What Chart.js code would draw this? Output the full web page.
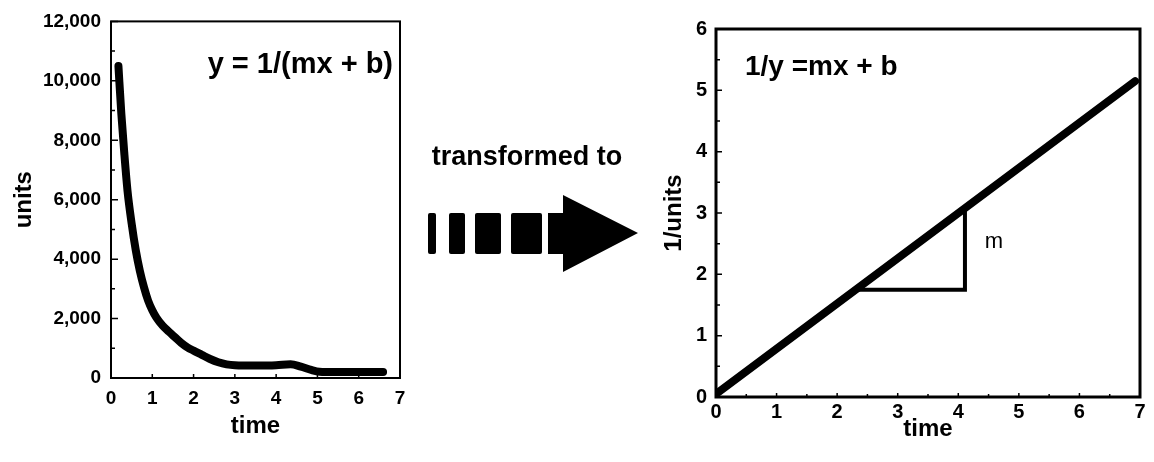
<!DOCTYPE html>
<html>
<head>
<meta charset="utf-8">
<script src="https://cdn.jsdelivr.net/npm/chart.js@4.4.1/dist/chart.umd.min.js"></script>
<style>
  html, body { margin: 0; padding: 0; background: #fff; }
  #page { position: relative; width: 1154px; height: 462px; overflow: hidden; background: #fff; }
  #decay { position: absolute; left: 0; top: 0; }
  #linear { position: absolute; left: 640px; top: 0; }
  #arrow { position: absolute; left: 0; top: 0; pointer-events: none; }
</style>
</head>
<body>
<div id="page">
  <canvas id="decay" width="420" height="462"></canvas>
  <canvas id="linear" width="514" height="462"></canvas>
  <svg id="arrow" width="1154" height="462" xmlns="http://www.w3.org/2000/svg">
    <text x="527" y="165" text-anchor="middle" font-family="Liberation Sans, Arial, sans-serif" font-weight="bold" font-size="27" fill="#000">transformed to</text>
    <rect x="428" y="213" width="8" height="41" rx="2" fill="#000"/>
    <rect x="449" y="213" width="16" height="41" rx="2" fill="#000"/>
    <rect x="475" y="213" width="26" height="41" rx="2" fill="#000"/>
    <rect x="511" y="213" width="31" height="41" rx="2" fill="#000"/>
    <polygon points="548,213 563,213 563,195 638,233 563,272 563,254 548,254" fill="#000"/>
  </svg>
</div>
<script>
// Decay curve: units over time
const decayTime  = [0.18, 0.25, 0.32, 0.40, 0.50, 0.60, 0.70, 0.80, 0.90, 1.00, 1.10, 1.25, 1.40, 1.55, 1.70, 1.85, 2.00, 2.20, 2.40, 2.60, 2.80, 3.00, 3.50, 4.00, 4.35, 4.60, 4.85, 5.05, 5.40, 6.59];
const decayUnits = [10500, 8900, 7600, 6300, 5200, 4300, 3600, 3050, 2600, 2280, 2030, 1760, 1560, 1370, 1180, 1030, 920, 780, 640, 530, 460, 430, 420, 430, 460, 380, 270, 210, 200, 200];

// Reciprocal plot: 1/units over time
const lineTime = [0, 6.92];
const lineInv  = [0.05, 5.15];

// Slope triangle under the straight line
const slopeTime = [2.33, 4.11, 4.11];
const slopeInv  = [1.75, 1.75, 3.08];

// Axis tick values
const decayXTicks  = [0, 1, 2, 3, 4, 5, 6, 7];
const decayYTicks  = [0, 2000, 4000, 6000, 8000, 10000, 12000];
const linearXTicks = [0, 1, 2, 3, 4, 5, 6, 7];
const linearYTicks = [0, 1, 2, 3, 4, 5, 6];

const FONT = '"Liberation Sans", Arial, Helvetica, sans-serif';

const toPoints = (xs, ys) => xs.map((x, i) => ({ x, y: ys[i] }));
const fixedTicks = arr => scale => { scale.ticks = arr.map(v => ({ value: v })); };

// Draws the closed plot frame, inward tick marks and text notes
const framePlugin = {
  id: 'frame',
  afterDatasetsDraw(chart, args, opts) {
    const { ctx, chartArea: a, scales } = chart;
    ctx.save();
    ctx.strokeStyle = '#000';
    ctx.lineWidth = opts.frameWidth;
    ctx.strokeRect(a.left, a.top, a.right - a.left, a.bottom - a.top);

    ctx.lineWidth = 1.5;
    ctx.beginPath();
    for (const t of opts.yMarks) {
      const py = scales.y.getPixelForValue(t.v);
      ctx.moveTo(a.left, py);
      ctx.lineTo(a.left + t.len, py);
    }
    for (const t of opts.xMarks) {
      const px = scales.x.getPixelForValue(t.v);
      ctx.moveTo(px, a.bottom);
      ctx.lineTo(px, a.bottom - t.len);
    }
    ctx.stroke();

    ctx.fillStyle = '#000';
    ctx.textBaseline = 'alphabetic';
    for (const n of opts.notes) {
      ctx.font = n.font;
      ctx.textAlign = n.align;
      let px, py;
      if (n.data) {
        px = scales.x.getPixelForValue(n.x);
        py = scales.y.getPixelForValue(n.y);
      } else {
        px = n.fromRight ? a.right - n.dx : a.left + n.dx;
        py = a.top + n.dy;
      }
      ctx.fillText(n.text, px, py);
    }
    ctx.restore();
  }
};

const marks = (from, to, step, len) => {
  const out = [];
  for (let v = from; v <= to + 1e-9; v += step) out.push({ v, len });
  return out;
};

function axisBase(size, pad) {
  return {
    type: 'linear',
    grid: { display: false, drawTicks: false },
    border: { display: false },
    ticks: { color: '#000', font: { family: FONT, size: size, weight: 'bold' }, padding: pad }
  };
}

// Left chart
const decayX = Object.assign(axisBase(19, 9), {
  min: 0, max: 7,
  afterBuildTicks: fixedTicks(decayXTicks),
  afterFit: s => { s.height = 84; },
  title: { display: true, text: 'time', color: '#000', font: { family: FONT, size: 24, weight: 'bold' }, padding: { top: 0, bottom: 21 } }
});
const decayY = Object.assign(axisBase(19, 10), {
  min: 0, max: 12000,
  afterBuildTicks: fixedTicks(decayYTicks),
  afterFit: s => { s.width = 111; },
  title: { display: true, text: 'units', color: '#000', font: { family: FONT, size: 24, weight: 'bold' }, padding: { top: 10, bottom: 0 } }
});
decayY.ticks.callback = v => Number(v).toLocaleString('en-US');

new Chart(document.getElementById('decay'), {
  type: 'line',
  data: {
    datasets: [{
      data: toPoints(decayTime, decayUnits),
      borderColor: '#000',
      borderWidth: 8,
      borderCapStyle: 'round',
      borderJoinStyle: 'round',
      cubicInterpolationMode: 'monotone',
      pointRadius: 0,
      fill: false
    }]
  },
  options: {
    responsive: false,
    animation: false,
    devicePixelRatio: 1,
    layout: { padding: { left: 0, right: 20, top: 20, bottom: 0 } },
    plugins: {
      legend: { display: false },
      tooltip: { enabled: false },
      frame: {
        frameWidth: 2,
        yMarks: marks(0, 12000, 2000, 7).concat(marks(1000, 11000, 2000, 4)),
        xMarks: marks(0, 7, 1, 4),
        notes: [
          { text: 'y = 1/(mx + b)', font: 'bold 29px ' + FONT, align: 'right', fromRight: true, dx: 7, dy: 52 }
        ]
      }
    },
    scales: { x: decayX, y: decayY }
  },
  plugins: [framePlugin]
});

// Right chart
const linearX = Object.assign(axisBase(20, 3), {
  min: 0, max: 7,
  afterBuildTicks: fixedTicks(linearXTicks),
  afterFit: s => { s.height = 65; },
  title: { display: true, text: 'time', color: '#000', font: { family: FONT, size: 24, weight: 'bold' }, padding: { top: 0, bottom: 18 } }
});
const linearY = Object.assign(axisBase(20, 9), {
  min: 0, max: 6,
  afterBuildTicks: fixedTicks(linearYTicks),
  afterFit: s => { s.width = 76; },
  title: { display: true, text: '1/units', color: '#000', font: { family: FONT, size: 24, weight: 'bold' }, padding: { top: 20, bottom: 0 } }
});

new Chart(document.getElementById('linear'), {
  type: 'line',
  data: {
    datasets: [
      {
        data: toPoints(lineTime, lineInv),
        borderColor: '#000',
        borderWidth: 8,
        borderCapStyle: 'round',
        pointRadius: 0,
        fill: false
      },
      {
        data: toPoints(slopeTime, slopeInv),
        borderColor: '#000',
        borderWidth: 4,
        borderJoinStyle: 'miter',
        pointRadius: 0,
        fill: false
      }
    ]
  },
  options: {
    responsive: false,
    animation: false,
    devicePixelRatio: 1,
    layout: { padding: { left: 0, right: 14, top: 29, bottom: 0 } },
    plugins: {
      legend: { display: false },
      tooltip: { enabled: false },
      frame: {
        frameWidth: 3,
        yMarks: marks(0, 6, 1, 6).concat(marks(0.5, 5.5, 1, 4)),
        xMarks: marks(0, 7, 1, 4).concat(marks(0.5, 6.5, 1, 3)),
        notes: [
          { text: '1/y =mx + b', font: 'bold 28px ' + FONT, align: 'left', dx: 29, dy: 46 },
          { text: 'm', font: '22px ' + FONT, align: 'center', data: true, x: 4.59, y: 2.43 }
        ]
      }
    },
    scales: { x: linearX, y: linearY }
  },
  plugins: [framePlugin]
});
</script>
</body>
</html>
